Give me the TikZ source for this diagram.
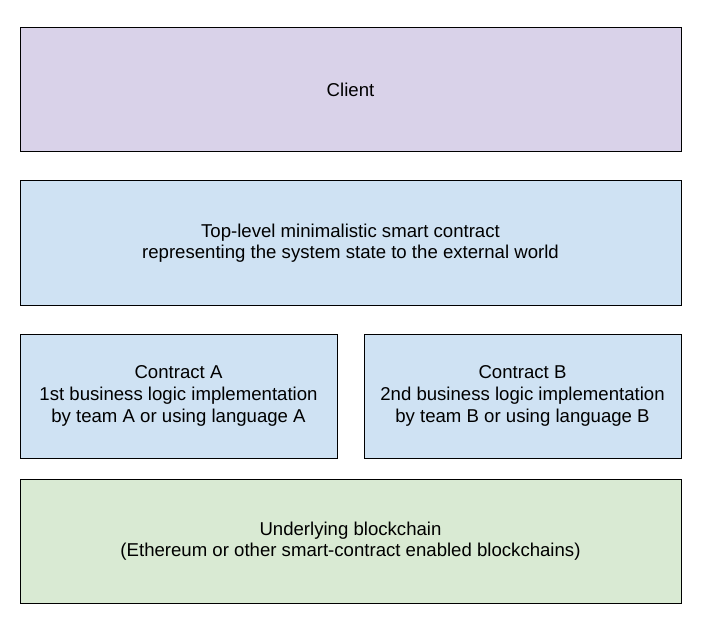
\documentclass[tikz,border=0pt]{standalone}
\usepackage{fontspec}
\setmainfont{Liberation Sans}
\usepackage{xcolor}
\usetikzlibrary{positioning}
\definecolor{clientfill}{HTML}{D9D2E9}
\definecolor{contractfill}{HTML}{CFE2F3}
\definecolor{chainfill}{HTML}{D9EAD3}
\tikzstyle{layer} = [rectangle, minimum width=661pt, minimum height=124pt, text centered, align=center, draw=black, line width=1pt, inner sep=0pt, outer sep=0pt, font=\fontsize{18.6}{21.6}\selectfont]
\tikzstyle{half} = [layer, minimum width=317pt]

\begin{document}
\begin{tikzpicture}

\useasboundingbox (0,0) rectangle (701pt,-620pt);

% Layers
\node (client) [layer, fill=clientfill] at (350.5pt,-90pt) {Client};
\node (toplevel) [layer, fill=contractfill, below=29pt of client] {Top-level minimalistic smart contract\\representing the system state to the external world};

% Contracts
\node (contractA) [half, fill=contractfill, below right=29pt and 0pt of toplevel.south west] {Contract A\\1st business logic implementation\\by team A or using language A};
\node (contractB) [half, fill=contractfill, below left=29pt and 0pt of toplevel.south east] {Contract B\\2nd business logic implementation\\by team B or using language B};

% Blockchain
\node (chain) [layer, fill=chainfill, below right=21pt and 0pt of contractA.south west] {Underlying blockchain\\(Ethereum or other smart-contract enabled blockchains)};

\end{tikzpicture}
\end{document}
